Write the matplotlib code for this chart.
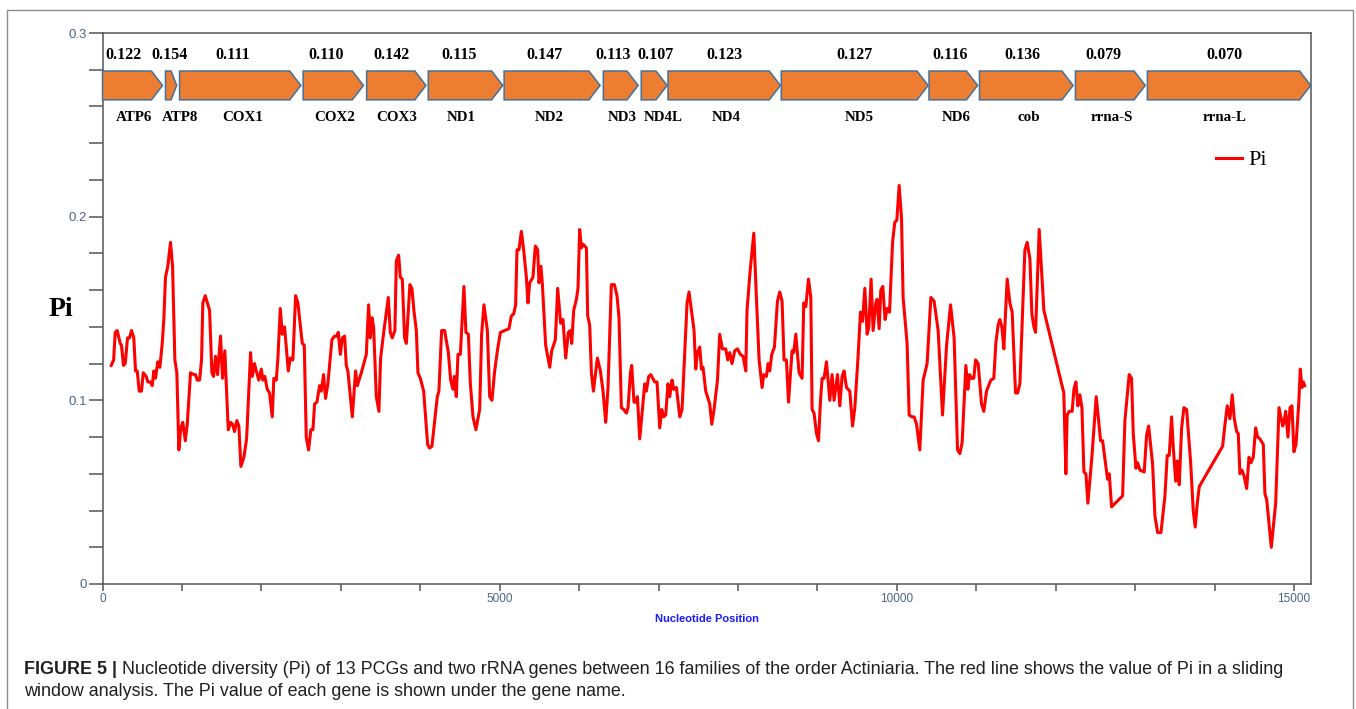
import matplotlib
matplotlib.use("Agg")
import matplotlib.pyplot as plt
from matplotlib import font_manager
from matplotlib.patches import Polygon, Rectangle
from matplotlib.ticker import MultipleLocator, FuncFormatter

# gene map along the mitogenome (nucleotide positions)
genes = ["ATP6", "ATP8", "COX1", "COX2", "COX3", "ND1", "ND2", "ND3", "ND4L",
         "ND4", "ND5", "ND6", "cob", "rrna-S", "rrna-L"]
gene_start = [0, 793, 970, 2526, 3325, 4101, 5056, 6305, 6782,
              7119, 8545, 10405, 11040, 12248, 13154]
gene_end = [756, 934, 2497, 3285, 4072, 5039, 6264, 6743, 7108,
            8534, 10394, 11017, 12219, 13127, 15210]
gene_pi = ["0.122", "0.154", "0.111", "0.110", "0.142", "0.115", "0.147", "0.113", "0.107",
           "0.123", "0.127", "0.116", "0.136", "0.079", "0.070"]

# sliding window Pi
window_pos = [
    110, 140, 160, 185, 223, 239, 264, 286, 315, 340,
    365, 394, 416, 437, 462, 491, 513, 550, 571, 601,
    626, 646, 667, 696, 722, 752, 772, 793, 822, 856,
    882, 911, 936, 961, 986, 1011, 1042, 1067, 1108, 1150,
    1171, 1193, 1222, 1247, 1263, 1293, 1348, 1377, 1398, 1423,
    1448, 1486, 1511, 1540, 1583, 1612, 1637, 1662, 1691, 1717,
    1742, 1780, 1814, 1864, 1885, 1914, 1936, 1968, 1999, 2019,
    2044, 2074, 2103, 2137, 2157, 2188, 2208, 2238, 2263, 2292,
    2339, 2364, 2397, 2431, 2460, 2515, 2540, 2565, 2594, 2623,
    2649, 2670, 2699, 2733, 2754, 2783, 2808, 2837, 2888, 2922,
    2951, 2968, 2994, 3019, 3048, 3069, 3089, 3145, 3186, 3208,
    3258, 3321, 3350, 3371, 3392, 3413, 3447, 3480, 3501, 3543,
    3598, 3623, 3648, 3681, 3699, 3728, 3749, 3774, 3803, 3825,
    3870, 3895, 3920, 3951, 3971, 4001, 4043, 4093, 4118, 4147,
    4215, 4235, 4269, 4307, 4354, 4383, 4412, 4429, 4454, 4475,
    4505, 4550, 4575, 4606, 4631, 4664, 4701, 4748, 4773, 4802,
    4845, 4874, 4903, 4937, 4971, 5009, 5117, 5147, 5176, 5201,
    5218, 5243, 5273, 5302, 5336, 5356, 5378, 5419, 5449, 5478,
    5495, 5520, 5538, 5579, 5630, 5655, 5701, 5730, 5768, 5797,
    5831, 5865, 5890, 5907, 5932, 5966, 5986, 6007, 6029, 6049,
    6092, 6108, 6133, 6155, 6180, 6230, 6268, 6301, 6335, 6364,
    6406, 6444, 6477, 6502, 6532, 6561, 6595, 6616, 6646, 6662,
    6691, 6716, 6734, 6763, 6826, 6847, 6876, 6902, 6952, 6981,
    7015, 7040, 7065, 7090, 7119, 7141, 7170, 7191, 7225, 7267,
    7296, 7359, 7384, 7447, 7468, 7490, 7519, 7540, 7560, 7594,
    7645, 7670, 7699, 7742, 7770, 7804, 7846, 7871, 7896, 7925,
    7959, 7993, 8031, 8064, 8098, 8114, 8152, 8199, 8233, 8266,
    8303, 8325, 8358, 8379, 8400, 8425, 8459, 8497, 8526, 8555,
    8580, 8610, 8636, 8681, 8702, 8728, 8769, 8807, 8828, 8854,
    8888, 8917, 8933, 8958, 8988, 9014, 9039, 9059, 9084, 9114,
    9156, 9185, 9210, 9253, 9282, 9311, 9336, 9366, 9408, 9442,
    9471, 9512, 9542, 9568, 9597, 9626, 9647, 9676, 9701, 9735,
    9752, 9777, 9798, 9823, 9852, 9878, 9908, 9946, 9974, 10000,
    10029, 10059, 10079, 10129, 10155, 10189, 10218, 10248, 10289, 10331,
    10381, 10428, 10469, 10520, 10575, 10626, 10676, 10721, 10764, 10793,
    10822, 10869, 10894, 10915, 10940, 10969, 10991, 11024, 11066, 11095,
    11129, 11183, 11221, 11246, 11275, 11297, 11322, 11347, 11389, 11423,
    11452, 11494, 11520, 11549, 11612, 11641, 11675, 11700, 11725, 11746,
    11792, 11851, 12102, 12128, 12144, 12170, 12207, 12229, 12254, 12279,
    12304, 12330, 12355, 12380, 12405, 12455, 12510, 12565, 12590, 12653,
    12674, 12703, 12842, 12871, 12925, 12955, 12976, 13010, 13031, 13060,
    13114, 13144, 13170, 13220, 13249, 13283, 13325, 13375, 13404, 13429,
    13459, 13479, 13510, 13530, 13555, 13585, 13614, 13648, 13699, 13731,
    13756, 13782, 13807, 14101, 14131, 14159, 14193, 14222, 14248, 14278,
    14298, 14319, 14345, 14370, 14404, 14433, 14458, 14487, 14517, 14542,
    14571, 14613, 14634, 14656, 14714, 14769, 14811, 14857, 14873, 14895,
    14924, 14949, 14974, 14999, 15025, 15059, 15079, 15100, 15117, 15134,
]
window_pi = [
    0.119, 0.122, 0.137, 0.138, 0.131, 0.130, 0.119, 0.120, 0.134, 0.134,
    0.138, 0.134, 0.116, 0.116, 0.105, 0.105, 0.115, 0.113, 0.110, 0.110,
    0.108, 0.116, 0.112, 0.121, 0.118, 0.131, 0.144, 0.167, 0.173, 0.186,
    0.173, 0.122, 0.115, 0.073, 0.085, 0.088, 0.078, 0.087, 0.115, 0.114,
    0.114, 0.111, 0.111, 0.122, 0.153, 0.157, 0.149, 0.115, 0.113, 0.124,
    0.114, 0.135, 0.112, 0.127, 0.084, 0.088, 0.087, 0.083, 0.089, 0.086,
    0.064, 0.069, 0.079, 0.126, 0.113, 0.120, 0.116, 0.111, 0.117, 0.111,
    0.113, 0.106, 0.104, 0.091, 0.112, 0.111, 0.123, 0.150, 0.136, 0.140,
    0.116, 0.123, 0.122, 0.157, 0.153, 0.131, 0.130, 0.080, 0.073, 0.084,
    0.084, 0.098, 0.099, 0.108, 0.105, 0.114, 0.101, 0.109, 0.133, 0.135,
    0.135, 0.137, 0.125, 0.134, 0.135, 0.119, 0.116, 0.091, 0.116, 0.108,
    0.115, 0.125, 0.152, 0.134, 0.145, 0.140, 0.102, 0.094, 0.123, 0.138,
    0.156, 0.137, 0.134, 0.138, 0.176, 0.179, 0.167, 0.166, 0.134, 0.131,
    0.163, 0.161, 0.149, 0.138, 0.115, 0.112, 0.105, 0.076, 0.074, 0.075,
    0.102, 0.105, 0.138, 0.138, 0.126, 0.111, 0.106, 0.113, 0.102, 0.125,
    0.125, 0.162, 0.137, 0.136, 0.109, 0.091, 0.084, 0.095, 0.136, 0.152,
    0.138, 0.102, 0.100, 0.116, 0.127, 0.137, 0.139, 0.146, 0.147, 0.152,
    0.182, 0.182, 0.192, 0.182, 0.167, 0.153, 0.164, 0.167, 0.184, 0.182,
    0.164, 0.173, 0.163, 0.130, 0.118, 0.127, 0.133, 0.161, 0.142, 0.144,
    0.123, 0.137, 0.138, 0.131, 0.149, 0.155, 0.161, 0.193, 0.183, 0.185,
    0.183, 0.146, 0.141, 0.115, 0.105, 0.123, 0.116, 0.105, 0.088, 0.107,
    0.163, 0.163, 0.157, 0.145, 0.096, 0.095, 0.093, 0.096, 0.115, 0.119,
    0.099, 0.099, 0.102, 0.079, 0.109, 0.105, 0.113, 0.114, 0.110, 0.110,
    0.085, 0.095, 0.091, 0.092, 0.109, 0.102, 0.111, 0.106, 0.107, 0.091,
    0.095, 0.153, 0.159, 0.138, 0.117, 0.126, 0.129, 0.117, 0.118, 0.105,
    0.098, 0.087, 0.095, 0.111, 0.136, 0.128, 0.128, 0.122, 0.126, 0.120,
    0.127, 0.128, 0.125, 0.124, 0.116, 0.149, 0.170, 0.191, 0.155, 0.122,
    0.107, 0.114, 0.113, 0.120, 0.116, 0.125, 0.129, 0.154, 0.159, 0.154,
    0.122, 0.122, 0.099, 0.127, 0.126, 0.136, 0.115, 0.112, 0.153, 0.151,
    0.166, 0.156, 0.095, 0.093, 0.082, 0.078, 0.100, 0.112, 0.112, 0.121,
    0.100, 0.114, 0.100, 0.114, 0.097, 0.113, 0.116, 0.107, 0.105, 0.086,
    0.096, 0.124, 0.148, 0.143, 0.161, 0.136, 0.140, 0.166, 0.138, 0.153,
    0.155, 0.139, 0.160, 0.162, 0.144, 0.150, 0.148, 0.186, 0.197, 0.198,
    0.217, 0.199, 0.156, 0.131, 0.092, 0.091, 0.091, 0.087, 0.073, 0.111,
    0.120, 0.156, 0.154, 0.138, 0.092, 0.130, 0.152, 0.134, 0.073, 0.071,
    0.077, 0.119, 0.106, 0.114, 0.112, 0.112, 0.122, 0.120, 0.098, 0.094,
    0.105, 0.111, 0.112, 0.131, 0.141, 0.144, 0.140, 0.128, 0.166, 0.153,
    0.148, 0.104, 0.104, 0.109, 0.182, 0.186, 0.177, 0.147, 0.140, 0.137,
    0.193, 0.149, 0.104, 0.060, 0.092, 0.094, 0.094, 0.106, 0.110, 0.097,
    0.103, 0.096, 0.061, 0.060, 0.044, 0.069, 0.102, 0.078, 0.078, 0.057,
    0.060, 0.042, 0.048, 0.089, 0.114, 0.112, 0.082, 0.063, 0.066, 0.062,
    0.061, 0.081, 0.086, 0.065, 0.037, 0.028, 0.028, 0.048, 0.070, 0.070,
    0.091, 0.075, 0.056, 0.067, 0.054, 0.085, 0.096, 0.095, 0.066, 0.040,
    0.031, 0.044, 0.053, 0.075, 0.087, 0.097, 0.090, 0.103, 0.090, 0.083,
    0.082, 0.060, 0.062, 0.059, 0.052, 0.069, 0.066, 0.069, 0.085, 0.080,
    0.079, 0.076, 0.049, 0.046, 0.020, 0.044, 0.096, 0.086, 0.088, 0.094,
    0.080, 0.096, 0.097, 0.072, 0.076, 0.098, 0.117, 0.107, 0.110, 0.108,
]

caption_bold = "FIGURE 5 |"
caption_line1 = ("Nucleotide diversity (Pi) of 13 PCGs and two rRNA genes between 16 families "
                 "of the order Actiniaria. The red line shows the value of Pi in a sliding")
caption_line2 = "window analysis. The Pi value of each gene is shown under the gene name."

# small horizontal nudges (in nt) of the labels relative to the arrow centres
value_shift = [-112, -25, -90, -93, -65, -77, -100, -100, 11, 0, 0, -40, -45, -82, -54]
name_shift = [20, 115, 35, 15, 0, -50, -35, 20, 110, 25, 55, 40, 35, 20, -50]

W, H = 1356, 709
names = {f.name for f in font_manager.fontManager.ttflist}
narrow = "Liberation Sans Narrow" if "Liberation Sans Narrow" in names else "Liberation Sans"
serif = "Liberation Serif"
sans = "Liberation Sans"

fig = plt.figure(figsize=(W / 100, H / 100), dpi=100)
ax = fig.add_axes([102.5 / W, 1 - 584 / H, (1310.7 - 102.5) / W, (584 - 33) / H])

ax.plot(window_pos, window_pi, color="#ff0000", lw=2.2, solid_joinstyle="round", label="Pi")

# gene arrows
y_bot, y_top = 0.2636, 0.2793
y_mid = (y_bot + y_top) / 2
for i, (name, s, e, val) in enumerate(zip(genes, gene_start, gene_end, gene_pi)):
    head = min(140, 0.5 * (e - s))
    verts = [(s, y_bot), (e - head, y_bot), (e, y_mid), (e - head, y_top), (s, y_top)]
    ax.add_patch(Polygon(verts, closed=True, facecolor="#ed7d31", edgecolor="#41719c",
                         lw=1.1, clip_on=False, zorder=3))
    cx = (s + e) / 2
    ax.text(cx + value_shift[i], 0.288, val, ha="center", va="center", family=serif,
            fontweight="bold", fontsize=11.5)
    ax.text(cx + name_shift[i], 0.2538, name, ha="center", va="center", family=serif,
            fontweight="bold", fontsize=10.8)

ax.set_xlim(0, 15210)
ax.set_ylim(0, 0.3)

ax.xaxis.set_major_locator(MultipleLocator(1000))
ax.yaxis.set_major_locator(MultipleLocator(0.02))
ax.xaxis.set_major_formatter(FuncFormatter(lambda v, p: f"{int(round(v))}" if round(v) % 5000 == 0 else ""))
ax.yaxis.set_major_formatter(FuncFormatter(
    lambda v, p: ("0" if abs(v) < 1e-9 else f"{v:.1f}") if abs(v * 10 - round(v * 10)) < 1e-6 else ""))

for sp in ax.spines.values():
    sp.set_color("#555555")
    sp.set_linewidth(1.1)
ax.tick_params(axis="y", direction="out", length=10, width=1.1, color="#555555",
               pad=1.5, labelsize=9.5, labelcolor="#4b6584")
ax.tick_params(axis="x", direction="out", length=5, width=1.1, color="#555555",
               pad=1.5, labelsize=8.5, labelcolor="#4b6584")
for lab in ax.get_xticklabels() + ax.get_yticklabels():
    lab.set_family(narrow)

ax.set_xlabel("Nucleotide Position", family=narrow, fontweight="bold", fontsize=8,
              color="#1a1aff", labelpad=6.5)

fig.text(61 / W, 1 - 309 / H, "Pi", family=serif, fontweight="bold", fontsize=20,
         ha="center", va="center")

ax.legend(loc="center left", bbox_to_anchor=((1205 - 102.5) / 1208.2, (584 - 160) / 551),
          frameon=False, borderpad=0, handlelength=1.15, handletextpad=0.3,
          prop={"family": serif, "size": 16})

# outer frame of the figure panel
fig.patches.append(Rectangle((7 / W, -0.05), (1353 - 7) / W, 1.05 - 10 / H,
                             transform=fig.transFigure, fill=False,
                             edgecolor="#8c8c8c", lw=1.0))

# caption
renderer = fig.canvas.get_renderer()
t = fig.text(24 / W, 1 - 669 / H, caption_bold, family=sans, fontweight="bold",
             fontsize=12.9, ha="left", va="center", color="#231f20")
bb = t.get_window_extent(renderer)
fig.text(bb.x1 / W + 5 / W, 1 - 669 / H, caption_line1, family=sans, fontsize=12.9,
         ha="left", va="center", color="#231f20")
fig.text(24 / W, 1 - 691 / H, caption_line2, family=sans, fontsize=12.9,
         ha="left", va="center", color="#231f20")

fig.savefig("out.png", dpi=100)
